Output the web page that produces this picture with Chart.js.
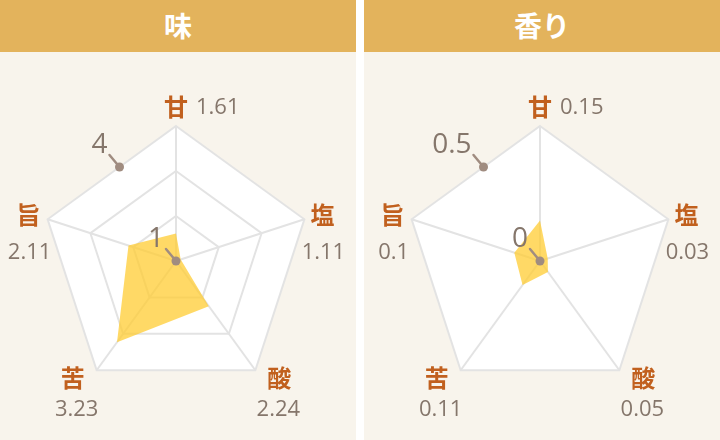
<!DOCTYPE html>
<html>
<head>
<meta charset="utf-8">
<script src="https://cdn.jsdelivr.net/npm/chart.js@4.4.1/dist/chart.umd.min.js"></script>
<style>
  html, body { margin: 0; padding: 0; background: #ffffff; }
  body { width: 720px; height: 440px; position: relative; overflow: hidden; }
  .panel { position: absolute; top: 0; width: 356px; height: 440px; background: #F8F4EC; }
  .hdr { position: absolute; left: 0; top: 0; width: 356px; height: 52px; background: #E3B35C;
         color: #ffffff; font: bold 28px "Noto Sans CJK JP", sans-serif; text-align: center; line-height: 50px; }
  .body { position: absolute; left: 0; top: 52px; width: 356px; height: 388px; }
</style>
</head>
<body>
<div class="panel" style="left:0">
  <div class="hdr" id="t1"></div>
  <div class="body"><canvas id="c1"></canvas></div>
</div>
<div class="panel" style="left:364px">
  <div class="hdr" id="t2"></div>
  <div class="body"><canvas id="c2"></canvas></div>
</div>
<script>
const panelTitles = ['味', '香り'];
const categories = ['甘', '塩', '酸', '苦', '旨'];
const tasteValues = [1.61, 1.11, 2.24, 3.23, 2.11];
const aromaValues = [0.15, 0.03, 0.05, 0.11, 0.1];
const tasteTicks = [1, 4];
const aromaTicks = [0, 0.5];

document.getElementById('t1').textContent = panelTitles[0];
document.getElementById('t2').textContent = panelTitles[1];

const NAME_COLOR = '#C1601E';
const VALUE_COLOR = '#85766B';
const DOT_COLOR = '#A08C80';
const GRID_COLOR = '#E3E3E3';

// label offsets per direction (layout only)
const nameOff = [[0, -19], [18, -4], [24, 8], [-24, 8], [-19, -4]];
const valOff  = [[20, -18], [19, 33], [23, 40], [-20, 40], [-18, 33]];

const radarDeco = {
  id: 'radarDeco',
  beforeDraw(chart) {
    const s = chart.scales.r;
    const ctx = chart.ctx;
    ctx.save();
    ctx.beginPath();
    for (let i = 0; i < chart.data.labels.length; i++) {
      const p = s.getPointPositionForValue(i, s.max);
      if (i === 0) ctx.moveTo(p.x, p.y); else ctx.lineTo(p.x, p.y);
    }
    ctx.closePath();
    ctx.fillStyle = '#ffffff';
    ctx.fill();
    ctx.restore();
  },
  afterDraw(chart) {
    const s = chart.scales.r;
    const ctx = chart.ctx;
    const vals = chart.data.datasets[0].data;
    const n = chart.data.labels.length;
    ctx.save();
    // category names and values
    for (let i = 0; i < n; i++) {
      const v = s.getPointPositionForValue(i, s.max);
      ctx.font = 'bold 24px "Noto Sans CJK JP", sans-serif';
      ctx.fillStyle = NAME_COLOR;
      ctx.textAlign = 'center';
      ctx.textBaseline = 'middle';
      ctx.fillText(chart.data.labels[i], v.x + nameOff[i][0], v.y + nameOff[i][1]);
      ctx.font = '22px "Open Sans", sans-serif';
      ctx.fillStyle = VALUE_COLOR;
      if (i === 0) {
        ctx.textAlign = 'left';
        ctx.fillText(String(vals[i]), v.x + valOff[i][0], v.y + nameOff[i][1] + 1);
      } else {
        ctx.fillText(String(vals[i]), v.x + valOff[i][0], v.y + valOff[i][1]);
      }
    }
    // tick annotations: max on upper-left edge, min at centre
    const ticks = chart.options.plugins.radarDeco.ticks;
    const a = s.getPointPositionForValue(0, s.max);
    const b = s.getPointPositionForValue(n - 1, s.max);
    const t = 0.44;
    const dots = [
      { x: s.xCenter, y: s.yCenter, text: String(ticks[0]) },
      { x: a.x + (b.x - a.x) * t, y: a.y + (b.y - a.y) * t, text: String(ticks[1]) }
    ];
    dots.forEach(d => {
      ctx.strokeStyle = DOT_COLOR;
      ctx.lineWidth = 2.5;
      ctx.lineCap = 'round';
      ctx.beginPath();
      ctx.moveTo(d.x, d.y);
      ctx.lineTo(d.x - 10, d.y - 12);
      ctx.stroke();
      ctx.fillStyle = DOT_COLOR;
      ctx.beginPath();
      ctx.arc(d.x, d.y, 4.5, 0, Math.PI * 2);
      ctx.fill();
      ctx.font = '28px "Open Sans", sans-serif';
      ctx.fillStyle = VALUE_COLOR;
      ctx.textAlign = 'right';
      ctx.textBaseline = 'alphabetic';
      ctx.fillText(d.text, d.x - 12, d.y - 14);
    });
    ctx.restore();
  }
};

function makeChart(id, values, ticks, step) {
  return new Chart(document.getElementById(id), {
    type: 'radar',
    data: {
      labels: categories,
      datasets: [{
        data: values,
        backgroundColor: 'rgba(255, 204, 51, 0.75)',
        borderWidth: 0,
        pointRadius: 0,
        fill: true
      }]
    },
    options: {
      responsive: true,
      maintainAspectRatio: false,
      animation: false,
      layout: { padding: { left: 41, right: 45, top: 74, bottom: 44 } },
      plugins: { legend: { display: false }, tooltip: { enabled: false }, radarDeco: { ticks: ticks } },
      scales: {
        r: {
          min: ticks[0],
          max: ticks[1],
          ticks: { display: false, stepSize: step },
          pointLabels: { display: false },
          grid: { color: GRID_COLOR, lineWidth: 2 },
          angleLines: { color: GRID_COLOR, lineWidth: 2 }
        }
      }
    },
    plugins: [radarDeco]
  });
}

makeChart('c1', tasteValues, tasteTicks, 1);
makeChart('c2', aromaValues, aromaTicks, 0.5);
</script>
</body>
</html>
